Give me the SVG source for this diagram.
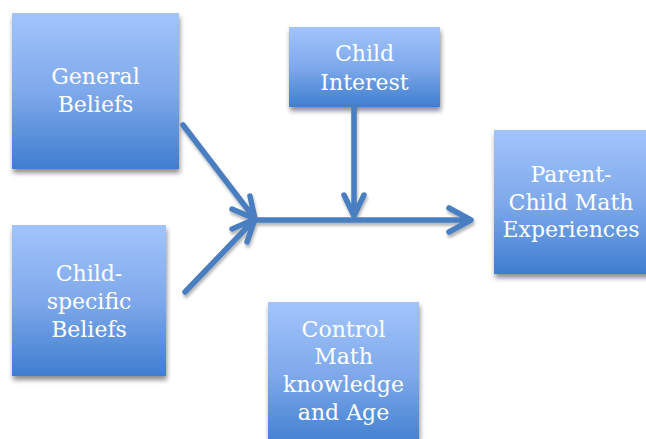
<svg xmlns="http://www.w3.org/2000/svg" width="646" height="439" viewBox="0 0 646 439">
  <defs>
    <linearGradient id="boxFill" x1="0" y1="0" x2="0" y2="1">
      <stop offset="0" stop-color="#A2C4FB"/>
      <stop offset="0.5" stop-color="#7FA9EB"/>
      <stop offset="1" stop-color="#3F7ECF"/>
    </linearGradient>
    <filter id="boxShadow" x="-10%" y="-10%" width="125%" height="125%">
      <feGaussianBlur in="SourceAlpha" stdDeviation="2.5"/>
      <feOffset dx="1" dy="4" result="blur"/>
      <feComponentTransfer><feFuncA type="linear" slope="0.45"/></feComponentTransfer>
      <feMerge><feMergeNode/><feMergeNode in="SourceGraphic"/></feMerge>
    </filter>
    <filter id="lineShadow" x="-20%" y="-20%" width="140%" height="140%">
      <feGaussianBlur in="SourceAlpha" stdDeviation="1.5"/>
      <feOffset dx="1" dy="3"/>
      <feComponentTransfer><feFuncA type="linear" slope="0.3"/></feComponentTransfer>
      <feMerge><feMergeNode/><feMergeNode in="SourceGraphic"/></feMerge>
    </filter>
  </defs>
  <style>
    .box { fill: url(#boxFill); filter: url(#boxShadow); }
    .label { font-family: "DejaVu Serif", "Liberation Serif", serif; font-size: 22px; fill: #FFFFFF; text-anchor: middle; }
    .wire { fill: none; stroke: #4A7EC0; stroke-width: 5.5; stroke-linecap: round; stroke-linejoin: round; }
  </style>
  <rect width="646" height="439" fill="#FFFFFF"/>

  <g id="general-beliefs">
    <rect class="box" x="12" y="13" width="167" height="156"/>
    <text class="label" x="95.5" y="84">General</text>
    <text class="label" x="95.5" y="112">Beliefs</text>
  </g>

  <g id="child-specific-beliefs">
    <rect class="box" x="12" y="225" width="154" height="151"/>
    <text class="label" x="89" y="281">Child-</text>
    <text class="label" x="89" y="309">specific</text>
    <text class="label" x="89" y="337">Beliefs</text>
  </g>

  <g id="child-interest">
    <rect class="box" x="289" y="27" width="151" height="80"/>
    <text class="label" x="364.5" y="60.5">Child</text>
    <text class="label" x="364.5" y="90">Interest</text>
  </g>

  <g id="parent-child-math">
    <rect class="box" x="494" y="130" width="156" height="144"/>
    <text class="label" x="571" y="182">Parent-</text>
    <text class="label" x="571" y="210">Child Math</text>
    <text class="label" x="571" y="237">Experiences</text>
  </g>

  <g id="control-math-age">
    <rect class="box" x="268" y="302" width="151" height="145"/>
    <text class="label" x="343.5" y="337">Control</text>
    <text class="label" x="343.5" y="364">Math</text>
    <text class="label" x="343.5" y="392">knowledge</text>
    <text class="label" x="343.5" y="420">and Age</text>
  </g>

  <g id="connectors" filter="url(#lineShadow)">
    <!-- general beliefs into the junction -->
    <path class="wire" d="M183,125 L255,219 M250,196 L255,219 L232,209"/>
    <!-- child-specific beliefs into the junction -->
    <path class="wire" d="M185,292 L255,219 M232,229 L255,219 L247,242"/>
    <!-- junction to outcome -->
    <path class="wire" d="M255,220 L471,220 M449,208 L471,220 L449,232"/>
    <!-- child interest down onto the main line -->
    <path class="wire" d="M354,107 L354,216 M344,195 L354,216 L364,195"/>
  </g>
</svg>
